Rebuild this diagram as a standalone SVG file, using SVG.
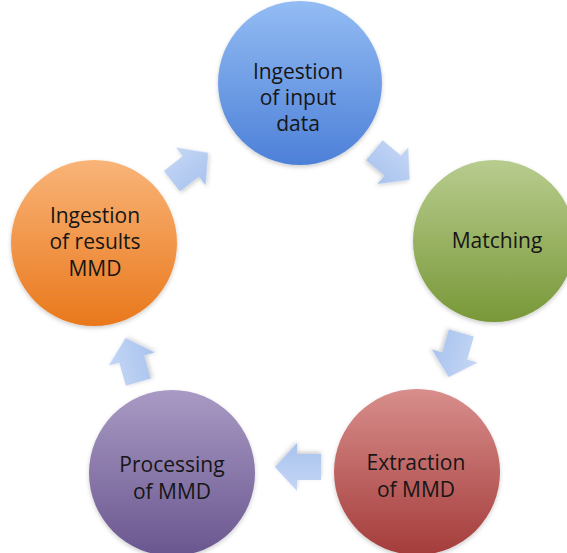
<svg xmlns="http://www.w3.org/2000/svg" width="567" height="553" viewBox="0 0 567 553">
<defs>
<linearGradient id="gBlue" x1="0" y1="0" x2="0" y2="1"><stop offset="0" stop-color="#93bcf3"/><stop offset="1" stop-color="#4d80d8"/></linearGradient>
<linearGradient id="gGreen" x1="0" y1="0" x2="0" y2="1"><stop offset="0" stop-color="#b8cc8e"/><stop offset="1" stop-color="#789838"/></linearGradient>
<linearGradient id="gRed" x1="0" y1="0" x2="0" y2="1"><stop offset="0" stop-color="#d88e8c"/><stop offset="1" stop-color="#a43c3b"/></linearGradient>
<linearGradient id="gPurple" x1="0" y1="0" x2="0" y2="1"><stop offset="0" stop-color="#a89ac4"/><stop offset="1" stop-color="#6a568f"/></linearGradient>
<linearGradient id="gOrange" x1="0" y1="0" x2="0" y2="1"><stop offset="0" stop-color="#f9b478"/><stop offset="1" stop-color="#e9781c"/></linearGradient>
<linearGradient id="gArrow" x1="0" y1="0" x2="0" y2="1"><stop offset="0" stop-color="#c4d6f5"/><stop offset="1" stop-color="#a9c3ee"/></linearGradient>
<filter id="sh" x="-20%" y="-20%" width="140%" height="140%"><feDropShadow dx="0" dy="2" stdDeviation="2" flood-color="#000" flood-opacity="0.2"/></filter>
<path id="arr" d="M-23,-13 L1,-13 L1,-24 L23,0 L1,24 L1,13 L-23,13 Z"/>
</defs>
<style>
.lbl{font-family:"Open Sans","Noto Sans",sans-serif;font-size:21px;fill:#161616;text-anchor:middle}
.arrow{fill:url(#gArrow);filter:url(#sh)}
</style>
<rect width="567" height="553" fill="#ffffff"/>
<g id="connectors">
<use href="#arr" class="arrow" transform="translate(190,167) rotate(-38)"/>
<use href="#arr" class="arrow" transform="translate(392,165) rotate(40)"/>
<use href="#arr" class="arrow" transform="translate(455,355) rotate(106)"/>
<use href="#arr" class="arrow" transform="translate(298,467) rotate(180)"/>
<use href="#arr" class="arrow" transform="translate(132,360) rotate(-106)"/>
</g>
<g id="node-input">
<circle cx="300" cy="83" r="82" fill="url(#gBlue)" filter="url(#sh)"/>
<text class="lbl" x="298" y="79">Ingestion</text>
<text class="lbl" x="298" y="105">of input</text>
<text class="lbl" x="298" y="131">data</text>
</g>
<g id="node-matching">
<circle cx="494" cy="241" r="81" fill="url(#gGreen)" filter="url(#sh)"/>
<text class="lbl" x="497" y="248">Matching</text>
</g>
<g id="node-extraction">
<circle cx="417" cy="472" r="83" fill="url(#gRed)" filter="url(#sh)"/>
<text class="lbl" x="416" y="470">Extraction</text>
<text class="lbl" x="416" y="497">of MMD</text>
</g>
<g id="node-processing">
<circle cx="172" cy="473" r="83" fill="url(#gPurple)" filter="url(#sh)"/>
<text class="lbl" x="172" y="472">Processing</text>
<text class="lbl" x="172" y="499">of MMD</text>
</g>
<g id="node-results">
<circle cx="94" cy="243" r="83" fill="url(#gOrange)" filter="url(#sh)"/>
<text class="lbl" x="95" y="223">Ingestion</text>
<text class="lbl" x="95" y="249">of results</text>
<text class="lbl" x="95" y="276">MMD</text>
</g>
</svg>
